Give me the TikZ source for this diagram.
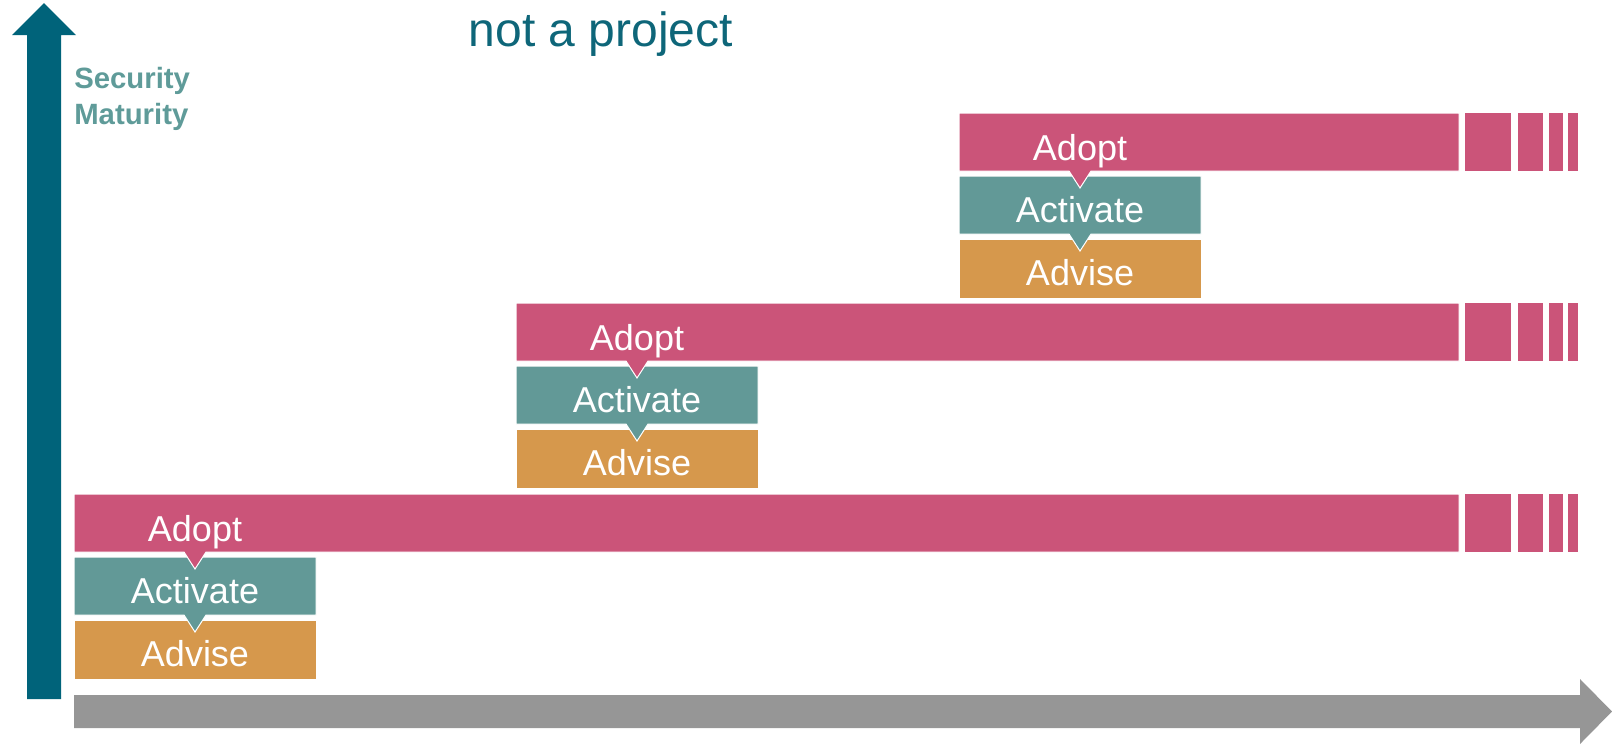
\documentclass[tikz,border=0pt]{standalone}
\usepackage{fontspec}
\setmainfont{Liberation Sans}
\definecolor{adoptc}{HTML}{CB5479}
\definecolor{activc}{HTML}{629997}
\definecolor{advisc}{HTML}{D6984C}
\definecolor{axisc}{HTML}{00637A}
\definecolor{timec}{HTML}{969696}
\definecolor{titlec}{HTML}{0E6679}
\definecolor{matc}{HTML}{5F9B99}

\begin{document}
\begin{tikzpicture}[x=0.75pt,y=-0.75pt,
  box/.style={draw=white,line width=0.75pt},
  lbl/.style={text=white,anchor=base,inner sep=0pt,font=\fontsize{27}{30}\selectfont}]
\useasboundingbox (0,0) rectangle (1612,747);
% axes
\fill[axisc] (27,699) -- (27,35) -- (12,35) -- (44,3) -- (76,35) -- (61,35) -- (61,699) -- cycle;
\fill[timec] (74,695) -- (1580,695) -- (1580,679) -- (1612,711.5) -- (1580,744) -- (1580,728) -- (74,728) -- cycle;
\node[text=titlec,font=\fontsize{36}{40}\selectfont] (title) at (601,34) {not a project};
\node[text=matc,anchor=base west,inner sep=0pt,font=\bfseries\fontsize{22}{26}\selectfont] (sec) at (74,88) {Security};
\node[text=matc,anchor=base west,inner sep=0pt,font=\bfseries\fontsize{22}{26}\selectfont] (mat) at (74,124) {Maturity};
% the three steps
\foreach \i/\x/\y in {1/74/494,2/516/303,3/959/113}{
  \draw[box,fill=advisc] (\x,\y+126) rectangle (\x+242,\y+185);
  \draw[box,fill=activc] (\x,\y+63) -- (\x+242,\y+63) -- (\x+242,\y+121) -- (\x+132,\y+121)
    -- (\x+121,\y+138) -- (\x+110,\y+121) -- (\x,\y+121) -- cycle;
  \draw[box,fill=adoptc] (\x,\y) -- (1459,\y) -- (1459,\y+58) -- (\x+132,\y+58)
    -- (\x+121,\y+75) -- (\x+110,\y+58) -- (\x,\y+58) -- cycle;
  \foreach \a/\b in {1465/1511,1518/1543,1549/1563,1568/1578}
    \fill[adoptc] (\a,\y) rectangle (\b,\y+58);
  \node[lbl] (adopt\i) at (\x+121,\y+47) {Adopt};
  \node[lbl] (activ\i) at (\x+121,\y+109) {Activate};
  \node[lbl] (advis\i) at (\x+121,\y+172) {Advise};
}
\end{tikzpicture}
\end{document}
